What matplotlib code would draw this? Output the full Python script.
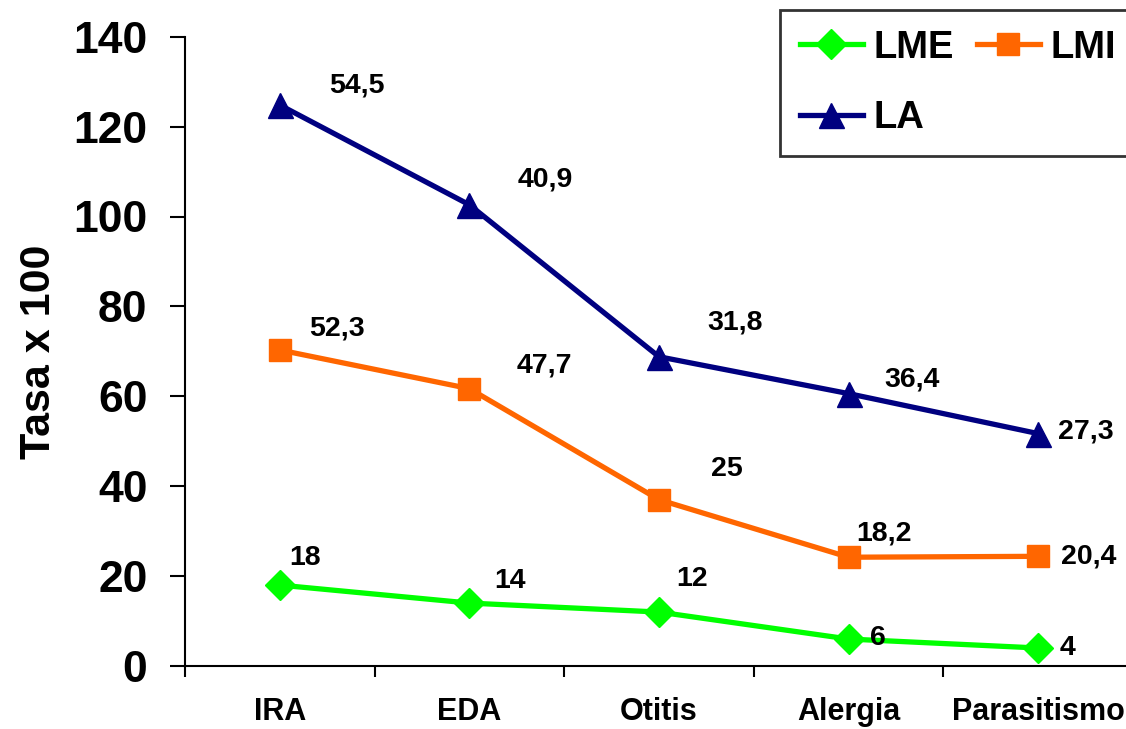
import matplotlib.pyplot as plt
from matplotlib.ticker import FixedLocator, NullFormatter

# categories and values (LMI and LA are stacked on top of LME)
categories = ['IRA', 'EDA', 'Otitis', 'Alergia', 'Parasitismo']
lme = [18, 14, 12, 6, 4]
lmi = [52.3, 47.7, 25, 18.2, 20.4]
la = [54.5, 40.9, 31.8, 36.4, 27.3]

lme_labels = ['18', '14', '12', '6', '4']
lmi_labels = ['52,3', '47,7', '25', '18,2', '20,4']
la_labels = ['54,5', '40,9', '31,8', '36,4', '27,3']

# label offsets in pixels (dx, dy) relative to each point
lme_off = [(25, 27), (41, 22), (33, 33), (29, 1), (29, 0)]
lmi_off = [(57, 22), (75, 23), (68, 31), (35, 24), (50, 0)]
la_off = [(77, 20), (76, 25), (76, 34), (63, 14), (48, 2)]

plt.rcParams['font.family'] = 'Liberation Sans'
plt.rcParams['font.weight'] = 'bold'

x = list(range(len(categories)))
lmi_top = [a + b for a, b in zip(lme, lmi)]
la_top = [a + b for a, b in zip(lmi_top, la)]

fig = plt.figure(figsize=(11.26, 7.29), dpi=100)
ax = fig.add_axes([185 / 1126, 1 - 666 / 729, 948 / 1126, (666 - 36.7) / 729])

l1, = ax.plot(x, lme, color='#00FF00', lw=3.8, marker='D', ms=15, label='LME', clip_on=False)
l2, = ax.plot(x, lmi_top, color='#FF6600', lw=3.8, marker='s', ms=16, label='LMI', clip_on=False)
l3, = ax.plot(x, la_top, color='#000080', lw=3.8, marker='^', ms=18, label='LA', clip_on=False)

for ys, labs, offs in [(lme, lme_labels, lme_off), (lmi_top, lmi_labels, lmi_off), (la_top, la_labels, la_off)]:
    for xi, yi, t, (dx, dy) in zip(x, ys, labs, offs):
        ax.annotate(t, (xi, yi), xytext=(dx, dy), textcoords='offset pixels',
                    ha='center', va='center', fontsize=20.5, fontweight='bold')

ax.set_xlim(-0.5, 4.5)
ax.set_ylim(0, 140)
ax.set_yticks(range(0, 141, 20))
ax.set_xticks(x)
ax.set_xticklabels(categories)
ax.xaxis.set_minor_locator(FixedLocator([i - 0.5 for i in range(6)]))
ax.xaxis.set_minor_formatter(NullFormatter())
ax.tick_params(axis='x', which='major', length=0, pad=22, labelsize=22)
ax.tick_params(axis='x', which='minor', length=8, width=1.5)
ax.tick_params(axis='y', length=11, width=1.5, pad=16, labelsize=32)
for lab in ax.get_xticklabels() + ax.get_yticklabels():
    lab.set_fontweight('bold')

ax.spines['top'].set_visible(False)
ax.spines['right'].set_visible(False)
ax.spines['left'].set_linewidth(1.5)
ax.spines['bottom'].set_linewidth(1.5)
ax.set_ylabel('Tasa x 100', fontsize=31, fontweight='bold', labelpad=10)

leg = fig.legend(handles=[l1, l3, l2], labels=['LME', 'LA', 'LMI'], ncol=2,
                 loc='upper left', bbox_to_anchor=(780 / 1126, 1 - 10 / 729),
                 borderaxespad=0, fontsize=27.5, frameon=True, fancybox=False,
                 handlelength=1.65, handletextpad=0.28, columnspacing=0.6,
                 borderpad=0.52, labelspacing=0.9)
leg.get_frame().set_edgecolor('black')
leg.get_frame().set_linewidth(2)
for t in leg.get_texts():
    t.set_fontweight('bold')

fig.savefig('out.png', dpi=100)
